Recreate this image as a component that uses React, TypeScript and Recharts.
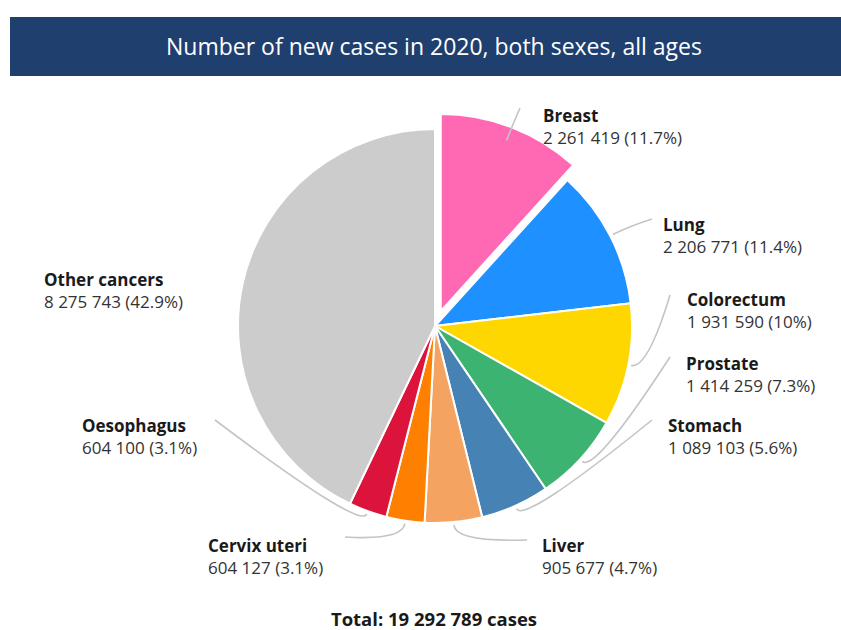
import React from "react";
import { PieChart, Pie, Cell } from "recharts";

const SITES = [
  "Breast",
  "Lung",
  "Colorectum",
  "Prostate",
  "Stomach",
  "Liver",
  "Cervix uteri",
  "Oesophagus",
  "Other cancers",
];
const CASES = [2261419, 2206771, 1931590, 1414259, 1089103, 905677, 604127, 604100, 8275743];
const PCT_LABELS = ["11.7%", "11.4%", "10%", "7.3%", "5.6%", "4.7%", "3.1%", "3.1%", "42.9%"];
const COLORS = [
  "#ff69b4",
  "#1e90ff",
  "#ffd700",
  "#3cb371",
  "#4682b4",
  "#f4a460",
  "#ff8000",
  "#dc143c",
  "#cccccc",
];

// where each label's text block sits and where its leader line ends
const LABEL_POS: Record<string, { x: number; y: number; lx?: number; ly?: number }> = {
  Breast: { x: 543, y: 115, lx: 520, ly: 108 },
  Lung: { x: 663, y: 224, lx: 652, ly: 219 },
  Colorectum: { x: 687, y: 299, lx: 670, ly: 295 },
  Prostate: { x: 686, y: 363, lx: 670, ly: 357 },
  Stomach: { x: 668, y: 425, lx: 652, ly: 420 },
  Liver: { x: 542, y: 545, lx: 527, ly: 540 },
  "Cervix uteri": { x: 208, y: 545, lx: 345, ly: 537 },
  Oesophagus: { x: 82, y: 425, lx: 215, ly: 420 },
  "Other cancers": { x: 44, y: 279 },
};

// recharts adds its 5px default margin to a numeric cx/cy
const CX = 430;
const CY = 321;
const R = 197;
const EXPLODE = 16;
const FONT = "'Open Sans', 'Noto Sans', sans-serif";

const fmt = (n: number) => n.toString().replace(/\B(?=(\d{3})+(?!\d))/g, " ");

const data = SITES.map((name, i) => ({ name, value: CASES[i], pct: PCT_LABELS[i] }));
const total = CASES.reduce((a, b) => a + b, 0);

// breast slice is pulled out along its mid angle
const breastMid = (CASES[0] / total) * 180; // degrees clockwise from top
const RAD = Math.PI / 180;
const offX = EXPLODE * Math.sin(breastMid * RAD);
const offY = -EXPLODE * Math.cos(breastMid * RAD);

function renderLabel(props: any) {
  const { cx, cy, midAngle, outerRadius, index } = props;
  const name = SITES[index];
  const pos = LABEL_POS[name];
  if (!pos) return null;
  const ox = index === 0 ? offX : 0;
  const oy = index === 0 ? offY : 0;
  const pt = (r: number) => ({
    x: cx + ox + r * Math.cos(-midAngle * RAD),
    y: cy + oy + r * Math.sin(-midAngle * RAD),
  });
  const s = index === 0 ? pt(outerRadius - 14) : pt(outerRadius + 3);
  const c = index === 0 ? pt(outerRadius + 4) : pt(outerRadius + 20);
  return (
    <g>
      {pos.lx !== undefined && (
        <path
          d={`M${s.x},${s.y} Q${c.x},${c.y} ${pos.lx},${pos.ly}`}
          fill="none"
          stroke="#c4c4c4"
          strokeWidth={1.6}
        />
      )}
      <text
        x={pos.x}
        y={pos.y}
        dominantBaseline="central"
        fontFamily={FONT}
        fontSize={17}
        fontWeight={700}
        fill="#1a1a1a"
      >
        {name}
      </text>
      <text
        x={pos.x}
        y={pos.y + 22}
        dominantBaseline="central"
        fontFamily={FONT}
        fontSize={17}
        fill="#333333"
      >
        {`${fmt(CASES[index])} (${PCT_LABELS[index]})`}
      </text>
    </g>
  );
}

export default function App() {
  return (
    <div
      style={{
        position: "absolute",
        left: 0,
        top: 0,
        width: 841,
        height: 630,
        background: "#ffffff",
        overflow: "hidden",
        fontFamily: FONT,
      }}
    >
      <div
        style={{
          position: "absolute",
          left: 10,
          top: 17,
          width: 831,
          height: 59,
          boxSizing: "border-box",
          paddingLeft: 17,
          background: "#1f3f6f",
          color: "#ffffff",
          fontSize: 23,
          lineHeight: "59px",
          textAlign: "center",
        }}
      >
        Number of new cases in 2020, both sexes, all ages
      </div>
      <div style={{ position: "absolute", left: 0, top: 0 }}>
        <PieChart width={841} height={630}>
          <Pie
            data={data}
            dataKey="value"
            nameKey="name"
            cx={CX}
            cy={CY}
            outerRadius={R}
            startAngle={90}
            endAngle={-270}
            stroke="#ffffff"
            strokeWidth={2}
            label={renderLabel}
            labelLine={false}
            isAnimationActive={false}
          >
            {data.map((d, i) => (
              <Cell
                key={d.name}
                fill={i === 0 ? "transparent" : COLORS[i]}
                stroke={i === 0 ? "none" : "#ffffff"}
              />
            ))}
          </Pie>
          <Pie
            data={data}
            dataKey="value"
            nameKey="name"
            cx={CX + offX}
            cy={CY + offY}
            outerRadius={R}
            startAngle={90}
            endAngle={-270}
            isAnimationActive={false}
          >
            {data.map((d, i) => (
              <Cell
                key={d.name}
                fill={i === 0 ? COLORS[0] : "transparent"}
                stroke={i === 0 ? "#ffffff" : "none"}
                strokeWidth={2}
              />
            ))}
          </Pie>
        </PieChart>
      </div>
      <div
        style={{
          position: "absolute",
          left: 0,
          width: 868,
          top: 609,
          textAlign: "center",
          fontSize: 18.5,
          lineHeight: "20px",
          fontWeight: 700,
          color: "#1a1a1a",
        }}
      >
        {`Total: ${fmt(total)} cases`}
      </div>
    </div>
  );
}
